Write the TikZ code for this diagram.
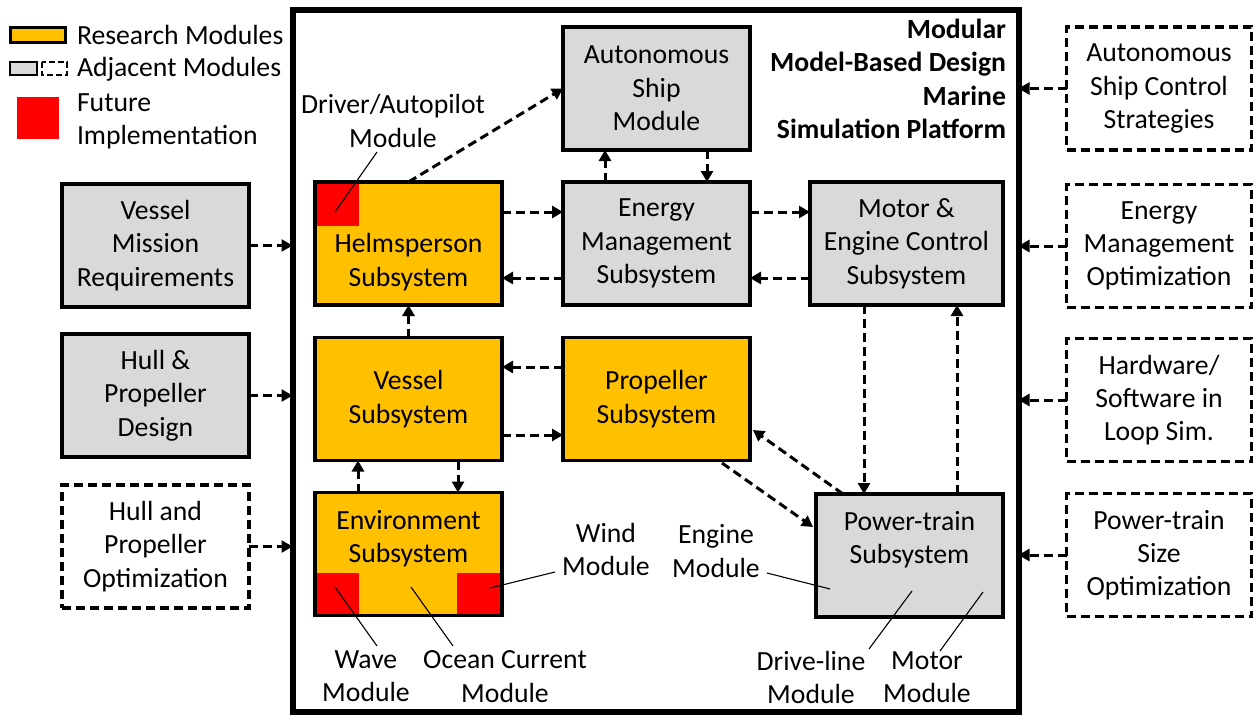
\documentclass[tikz,border=0pt]{standalone}
\usepackage{fontspec}
\setmainfont{Carlito}
\usetikzlibrary{arrows.meta,calc}
\definecolor{resyel}{HTML}{FFC000}
\definecolor{adjgray}{HTML}{D9D9D9}
\definecolor{futred}{HTML}{FF0000}
\begin{document}
\begin{tikzpicture}[x=1pt,y=-1pt,
  every node/.style={font=\fontsize{27.7}{33.3}\selectfont, inner sep=0pt, outer sep=0pt},
  modbox/.style={draw=black, line width=3.2pt, minimum width=187pt, minimum height=123pt, align=center},
  resbox/.style={modbox, fill=resyel},
  adjbox/.style={modbox, fill=adjgray},
  dashbox/.style={modbox, dash pattern=on 9pt off 5pt, fill=white},
  flow/.style={line width=3pt, dash pattern=on 9pt off 5pt, -{Triangle[length=11pt,width=12pt]}},
  note/.style={line width=1.1pt},
  lbl/.style={align=center}
]
\useasboundingbox (0,0) rectangle (1254,715);
\fill[white] (0,0) rectangle (1254,715);

% main frame
\node[draw=black, line width=6pt, minimum width=726pt, minimum height=702pt] (frame) at (655.5,361) {};

% title
\node[anchor=east, align=right, font=\fontsize{27.7}{33.3}\selectfont\bfseries] (title) at (1006,79) {Modular\\Model-Based Design\\Marine\\Simulation Platform};

% legend
\draw[fill=resyel, line width=3pt] (10,27) rectangle (65,42);
\node[anchor=west] (lgres) at (77,35) {Research Modules};
\draw[fill=adjgray, line width=2.6pt] (10,62) rectangle (37,75);
\draw[line width=2.6pt, dash pattern=on 6pt off 3pt] (42,62) rectangle (67,75);
\node[anchor=west] (lgadj) at (77,69) {Adjacent Modules};
\fill[futred] (17,97) rectangle (59,139);
\node[anchor=west, align=left] (lgfut) at (77,121) {Future\\Implementation};

% inner boxes
\node[adjbox] (auto) at (656.5,88.5) {Autonomous\\Ship\\Module};
\node[resbox] (helm) at (408.5,243.5) {};
\node[adjbox] (energy) at (656.5,243.5) {Energy\\Management\\Subsystem};
\node[adjbox, minimum width=193pt] (motor) at (906.5,243.5) {Motor \&\\Engine Control\\Subsystem};
\node[resbox] (vessel) at (408.5,399) {Vessel\\Subsystem};
\node[resbox] (prop) at (656.5,399) {Propeller\\Subsystem};
\node[resbox] (env) at (408.5,554) {};
\node[adjbox] (pt) at (909.5,555.5) {};

% red future parts
\fill[futred] ([xshift=1.6pt,yshift=-1.6pt]helm.north west) rectangle ++(42,42);
\fill[futred] ([xshift=1.6pt,yshift=1.6pt]env.south west) rectangle ++(42,-41);
\fill[futred] ([xshift=-1.6pt,yshift=1.6pt]env.south east) rectangle ++(-43,-41);
\draw[line width=3.2pt] (helm.north west) rectangle (helm.south east);
\draw[line width=3.2pt] (env.north west) rectangle (env.south east);

\node[lbl] (helmtxt) at (408.5,262) {Helmsperson\\Subsystem};
\node[lbl] (envtxt) at (408.5,539) {Environment\\Subsystem};
\node[lbl] (pttxt) at (909.5,540) {Power-train\\Subsystem};

% outer boxes
\node[adjbox] (mission) at (155.5,245.5) {Vessel\\Mission\\Requirements};
\node[adjbox] (hulld) at (155.5,395.5) {Hull \&\\Propeller\\Design};
\node[dashbox] (hullopt) at (155.5,546.5) {Hull and\\Propeller\\Optimization};
\node[dashbox, minimum width=185pt] (r1) at (1159,88.5) {Autonomous\\Ship Control\\Strategies};
\node[dashbox, minimum width=185pt] (r2) at (1159,246) {Energy\\Management\\Optimization};
\node[dashbox, minimum width=185pt] (r3) at (1159,400) {Hardware/\\Software in\\Loop Sim.};
\node[dashbox, minimum width=185pt] (r4) at (1159,555) {Power-train\\Size\\Optimization};

% external arrows
\draw[flow] (mission.east) -- (mission.east -| frame.west);
\draw[flow] (hulld.east) -- (hulld.east -| frame.west);
\draw[flow] (hullopt.east) -- (hullopt.east -| frame.west);
\draw[flow] (r1.west) -- (r1.west -| frame.east);
\draw[flow] (r2.west) -- (r2.west -| frame.east);
\draw[flow] (r3.west) -- (r3.west -| frame.east);
\draw[flow] (r4.west) -- (r4.west -| frame.east);

% internal arrows
\draw[flow] (helm.north) -- (auto.west);
\draw[flow] ([xshift=-51.5]energy.north) -- ([xshift=-51.5]auto.south);
\draw[flow] ([xshift=50.5]auto.south) -- ([xshift=50.5]energy.north);
\draw[flow] ([yshift=31.5]helm.east) -- ([yshift=31.5]energy.west);
\draw[flow] ([yshift=-34.5]energy.west) -- ([yshift=-34.5]helm.east);
\draw[flow] ([yshift=31.5]energy.east) -- ([yshift=31.5]motor.west);
\draw[flow] ([yshift=-34.5]motor.west) -- ([yshift=-34.5]energy.east);
\draw[flow] (vessel.north) -- (helm.south);
\draw[flow] ([yshift=32]prop.west) -- ([yshift=32]vessel.east);
\draw[flow] ([yshift=-36]vessel.east) -- ([yshift=-36]prop.west);
\draw[flow] ([xshift=-50.5]env.north) -- ([xshift=-50.5]vessel.south);
\draw[flow] ([xshift=49.5]vessel.south) -- ([xshift=49.5]env.north);
\coordinate (md) at ([xshift=-42.5]motor.south);
\coordinate (mu) at ([xshift=50.5]motor.south);
\draw[flow] (md) -- (md |- pt.north);
\draw[flow] (mu |- pt.north) -- (mu);
\coordinate (ps) at (722,463);
\coordinate (pe) at (813,527);
\coordinate (ts) at (843,494);
\coordinate (te) at (753,430);
\draw[flow] (ps) -- (pe);
\draw[flow] (ts) -- (te);

% annotations
\node[lbl] (drv) at (393,121) {Driver/Autopilot\\Module};
\coordinate (drvpt) at (335,212);
\draw[note] (drvpt) -- (377,152);
\node[lbl] (wind) at (606,549.5) {Wind\\Module};
\draw[note] (490,588) -- (555,572);
\node[lbl] (wave) at (366,676.5) {Wave\\Module};
\draw[note] (335,587) -- (377,646);
\node[lbl] (ocean) at (505,676.5) {Ocean Current\\Module};
\draw[note] (411,587) -- (453,646);
\node[lbl] (engine) at (716,551) {Engine\\Module};
\draw[note] (767,573) -- (830,589);
\node[lbl] (drive) at (811,677.5) {Drive-line\\Module};
\draw[note] (912,591) -- (869,649);
\node[lbl] (motm) at (927,677.5) {Motor\\Module};
\draw[note] (983,592) -- (940,651);
\end{tikzpicture}
\end{document}
